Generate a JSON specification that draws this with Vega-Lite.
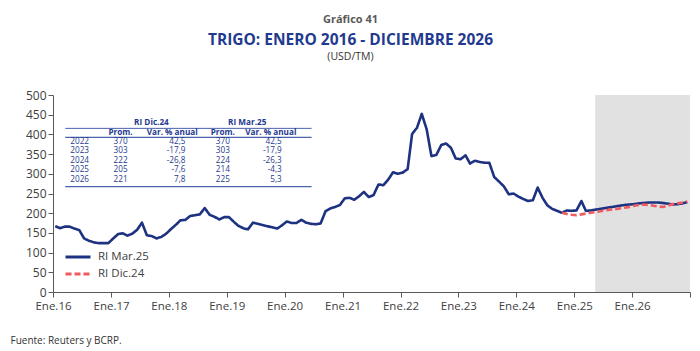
{
  "$schema": "https://vega.github.io/schema/vega-lite/v6.json",
  "width": 637,
  "height": 197,
  "autosize": "none",
  "padding": {"left": 53, "top": 95, "right": 10, "bottom": 59},
  "background": "white",
  "title": {
    "text": "Gráfico 41",
    "subtitle": "TRIGO: ENERO 2016 - DICIEMBRE 2026",
    "anchor": "middle",
    "dx": -21,
    "font": "Open Sans",
    "fontSize": 11,
    "fontWeight": "bold",
    "color": "#595959",
    "subtitleFont": "Open Sans",
    "subtitleFontSize": 15.5,
    "subtitleFontWeight": "bold",
    "subtitleColor": "#1f3a8f",
    "subtitlePadding": 8,
    "offset": 3
  },
  "config": {
    "font": "Open Sans",
    "view": {"stroke": null},
    "axisY": {"labelOverlap": false, "labelSeparation": -40},
    "locale": {"number": {"decimal": ",", "thousands": ".", "grouping": [3], "currency": ["", ""], "minus": "-"}}
  },
  "datasets": {
    "mar25": [
      {"date": "2016-01-15", "value": 167}, {"date": "2016-02-15", "value": 162}, {"date": "2016-03-15", "value": 166}, {"date": "2016-04-15", "value": 166},
      {"date": "2016-05-15", "value": 161}, {"date": "2016-06-15", "value": 157}, {"date": "2016-07-15", "value": 136}, {"date": "2016-08-15", "value": 130},
      {"date": "2016-09-15", "value": 126}, {"date": "2016-10-15", "value": 124}, {"date": "2016-11-15", "value": 124}, {"date": "2016-12-15", "value": 124},
      {"date": "2017-01-15", "value": 136}, {"date": "2017-02-15", "value": 147}, {"date": "2017-03-15", "value": 149}, {"date": "2017-04-15", "value": 143},
      {"date": "2017-05-15", "value": 148}, {"date": "2017-06-15", "value": 158}, {"date": "2017-07-15", "value": 176}, {"date": "2017-08-15", "value": 144},
      {"date": "2017-09-15", "value": 142}, {"date": "2017-10-15", "value": 136}, {"date": "2017-11-15", "value": 140}, {"date": "2017-12-15", "value": 148},
      {"date": "2018-01-15", "value": 160}, {"date": "2018-02-15", "value": 171}, {"date": "2018-03-15", "value": 182}, {"date": "2018-04-15", "value": 183},
      {"date": "2018-05-15", "value": 193}, {"date": "2018-06-15", "value": 195}, {"date": "2018-07-15", "value": 197}, {"date": "2018-08-15", "value": 213},
      {"date": "2018-09-15", "value": 196}, {"date": "2018-10-15", "value": 191}, {"date": "2018-11-15", "value": 184}, {"date": "2018-12-15", "value": 190},
      {"date": "2019-01-15", "value": 190}, {"date": "2019-02-15", "value": 178}, {"date": "2019-03-15", "value": 168}, {"date": "2019-04-15", "value": 162},
      {"date": "2019-05-15", "value": 159}, {"date": "2019-06-15", "value": 176}, {"date": "2019-07-15", "value": 173}, {"date": "2019-08-15", "value": 170},
      {"date": "2019-09-15", "value": 167}, {"date": "2019-10-15", "value": 164}, {"date": "2019-11-15", "value": 161}, {"date": "2019-12-15", "value": 169},
      {"date": "2020-01-15", "value": 179}, {"date": "2020-02-15", "value": 175}, {"date": "2020-03-15", "value": 175}, {"date": "2020-04-15", "value": 183},
      {"date": "2020-05-15", "value": 176}, {"date": "2020-06-15", "value": 173}, {"date": "2020-07-15", "value": 172}, {"date": "2020-08-15", "value": 174},
      {"date": "2020-09-15", "value": 205}, {"date": "2020-10-15", "value": 212}, {"date": "2020-11-15", "value": 216}, {"date": "2020-12-15", "value": 221},
      {"date": "2021-01-15", "value": 238}, {"date": "2021-02-15", "value": 239}, {"date": "2021-03-15", "value": 234}, {"date": "2021-04-15", "value": 243},
      {"date": "2021-05-15", "value": 254}, {"date": "2021-06-15", "value": 241}, {"date": "2021-07-15", "value": 246}, {"date": "2021-08-15", "value": 273},
      {"date": "2021-09-15", "value": 271}, {"date": "2021-10-15", "value": 285}, {"date": "2021-11-15", "value": 304}, {"date": "2021-12-15", "value": 300},
      {"date": "2022-01-15", "value": 303}, {"date": "2022-02-15", "value": 312}, {"date": "2022-03-15", "value": 401}, {"date": "2022-04-15", "value": 417},
      {"date": "2022-05-15", "value": 452}, {"date": "2022-06-15", "value": 413}, {"date": "2022-07-15", "value": 345}, {"date": "2022-08-15", "value": 348},
      {"date": "2022-09-15", "value": 373}, {"date": "2022-10-15", "value": 377}, {"date": "2022-11-15", "value": 366}, {"date": "2022-12-15", "value": 339},
      {"date": "2023-01-15", "value": 337}, {"date": "2023-02-15", "value": 347}, {"date": "2023-03-15", "value": 326}, {"date": "2023-04-15", "value": 333},
      {"date": "2023-05-15", "value": 330}, {"date": "2023-06-15", "value": 328}, {"date": "2023-07-15", "value": 328}, {"date": "2023-08-15", "value": 292},
      {"date": "2023-09-15", "value": 280}, {"date": "2023-10-15", "value": 268}, {"date": "2023-11-15", "value": 248}, {"date": "2023-12-15", "value": 250},
      {"date": "2024-01-15", "value": 242}, {"date": "2024-02-15", "value": 236}, {"date": "2024-03-15", "value": 231}, {"date": "2024-04-15", "value": 233},
      {"date": "2024-05-15", "value": 265}, {"date": "2024-06-15", "value": 239}, {"date": "2024-07-15", "value": 220}, {"date": "2024-08-15", "value": 211},
      {"date": "2024-09-15", "value": 206}, {"date": "2024-10-15", "value": 201}, {"date": "2024-11-15", "value": 207}, {"date": "2024-12-15", "value": 206},
      {"date": "2025-01-15", "value": 207}, {"date": "2025-02-15", "value": 231}, {"date": "2025-03-15", "value": 206}, {"date": "2025-04-15", "value": 207},
      {"date": "2025-05-15", "value": 209}, {"date": "2025-06-15", "value": 211}, {"date": "2025-07-15", "value": 213}, {"date": "2025-08-15", "value": 215},
      {"date": "2025-09-15", "value": 217}, {"date": "2025-10-15", "value": 219}, {"date": "2025-11-15", "value": 221}, {"date": "2025-12-15", "value": 222},
      {"date": "2026-01-15", "value": 223}, {"date": "2026-02-15", "value": 225}, {"date": "2026-03-15", "value": 226}, {"date": "2026-04-15", "value": 227},
      {"date": "2026-05-15", "value": 227}, {"date": "2026-06-15", "value": 227}, {"date": "2026-07-15", "value": 226}, {"date": "2026-08-15", "value": 224},
      {"date": "2026-09-15", "value": 222}, {"date": "2026-10-15", "value": 223}, {"date": "2026-11-15", "value": 225}, {"date": "2026-12-15", "value": 228}
    ],
    "dic24": [
      {"date": "2024-10-15", "value": 201}, {"date": "2024-11-15", "value": 198}, {"date": "2024-12-15", "value": 196},
      {"date": "2025-01-15", "value": 195}, {"date": "2025-02-15", "value": 197}, {"date": "2025-03-15", "value": 199}, {"date": "2025-04-15", "value": 201},
      {"date": "2025-05-15", "value": 203}, {"date": "2025-06-15", "value": 205}, {"date": "2025-07-15", "value": 207}, {"date": "2025-08-15", "value": 209},
      {"date": "2025-09-15", "value": 210}, {"date": "2025-10-15", "value": 212}, {"date": "2025-11-15", "value": 214}, {"date": "2025-12-15", "value": 216},
      {"date": "2026-01-15", "value": 219}, {"date": "2026-02-15", "value": 221}, {"date": "2026-03-15", "value": 222}, {"date": "2026-04-15", "value": 221},
      {"date": "2026-05-15", "value": 219}, {"date": "2026-06-15", "value": 217}, {"date": "2026-07-15", "value": 216}, {"date": "2026-08-15", "value": 219},
      {"date": "2026-09-15", "value": 223}, {"date": "2026-10-15", "value": 225}, {"date": "2026-11-15", "value": 227}, {"date": "2026-12-15", "value": 230}
    ],
    "forecast": [{"from": "2025-05-13", "to": "2027-01-01"}],
    "table": [
      {"year": 2022, "dic_prom": 370, "dic_var": 42.5, "mar_prom": 370, "mar_var": 42.5},
      {"year": 2023, "dic_prom": 303, "dic_var": -17.9, "mar_prom": 303, "mar_var": -17.9},
      {"year": 2024, "dic_prom": 222, "dic_var": -26.8, "mar_prom": 224, "mar_var": -26.3},
      {"year": 2025, "dic_prom": 205, "dic_var": -7.6, "mar_prom": 214, "mar_var": -4.3},
      {"year": 2026, "dic_prom": 221, "dic_var": 7.8, "mar_prom": 225, "mar_var": 5.3}
    ],
    "one": [{}]
  },
  "layer": [
    {
      "encoding": {
        "y": {"type": "quantitative",
          "scale": {"domain": [0, 500], "nice": false, "zero": true},
          "axis": {
            "values": [0, 50, 100, 150, 200, 250, 300, 350, 400, 450, 500],
            "labelOverlap": false,
            "labelSeparation": -40,
            "labelFlush": false,
            "labelBound": false,
            "title": "(USD/TM)", "titleAngle": 0, "titleX": 297, "titleY": -39, "titleAlign": "center", "titleBaseline": "middle",
            "titleFontWeight": "normal", "titleFontSize": 10.5, "titleColor": "#333333",
            "labelFontSize": 12, "labelColor": "#404040", "labelPadding": 2,
            "grid": false, "tickSize": 5, "tickColor": "#595959", "domainColor": "#595959"
          }
        }
      },
      "layer": [
        {
          "data": {"name": "forecast"},
          "mark": {"type": "rect", "color": "#e1e1e1"},
          "encoding": {
            "x": {"field": "from", "type": "temporal",
              "scale": {"type": "utc", "domain": [{"year": 2016, "month": 1, "date": 1, "utc": true}, {"year": 2027, "month": 1, "date": 1, "utc": true}], "nice": false},
              "axis": {
                "title": "Fuente: Reuters y BCRP.",
                "titleX": -43, "titleY": 48, "titleAlign": "left", "titleAnchor": "start", "titleBaseline": "middle",
                "titleFontWeight": "normal", "titleFontSize": 10, "titleColor": "#333333",
                "tickCount": {"interval": "year", "step": 1},
                "labelExpr": "utcFormat(datum.value, '%Y') == '2027' ? '' : 'Ene.' + utcFormat(datum.value, '%y')",
                "labelFontSize": 11.5, "labelColor": "#404040", "labelPadding": 3, "labelOverlap": false, "labelFlush": false, "labelBound": false,
                "grid": false, "tickSize": 5, "tickColor": "#595959", "domainColor": "#595959"
              }
            },
            "x2": {"field": "to"},
            "y": {"datum": 0, "type": "quantitative"},
            "y2": {"datum": 500}
          }
        },
        {
          "data": {"name": "mar25"},
          "mark": {"type": "line", "strokeWidth": 2.6, "strokeJoin": "round"},
          "encoding": {
            "x": {"field": "date", "type": "temporal"},
            "y": {"field": "value", "type": "quantitative"},
            "color": {"datum": "RI Mar.25", "type": "nominal",
              "scale": {"domain": ["RI Mar.25", "RI Dic.24"], "range": ["#1d3281", "#ef5b5f"]},
              "legend": {"orient": "none", "legendX": 17, "legendY": 154, "title": null, "symbolType": "M-2,0H2", "symbolSize": 156,
                "symbolStrokeWidth": 3, "labelFontSize": 11.5, "labelColor": "#404040", "rowPadding": 3, "labelOffset": 12, "padding": 0}
            },
            "strokeDash": {"datum": "RI Mar.25", "type": "nominal",
              "scale": {"domain": ["RI Mar.25", "RI Dic.24"], "range": [[1, 0], [6, 3]]},
              "legend": {"orient": "none", "legendX": 17, "legendY": 154, "title": null, "symbolType": "M-2,0H2", "symbolSize": 156,
                "symbolStrokeWidth": 3, "labelFontSize": 11.5, "labelColor": "#404040", "rowPadding": 3, "labelOffset": 12, "padding": 0}
            }
          }
        },
        {
          "data": {"name": "dic24"},
          "mark": {"type": "line", "strokeWidth": 2.6},
          "encoding": {
            "x": {"field": "date", "type": "temporal"},
            "y": {"field": "value", "type": "quantitative"},
            "color": {"datum": "RI Dic.24", "type": "nominal"},
            "strokeDash": {"datum": "RI Dic.24", "type": "nominal"}
          }
        }
      ]
    },
    {
      "layer": [
        {
          "data": {"name": "one"},
          "mark": {"type": "rule", "color": "#4a62b0", "strokeWidth": 1},
          "encoding": {
            "x": {"datum": {"year": 2016, "month": 3, "date": 18, "utc": true}, "type": "temporal"},
            "x2": {"datum": {"year": 2020, "month": 6, "date": 19, "utc": true}},
            "y": {"datum": 2020.55, "type": "quantitative", "scale": {"domain": [2017.0, 2037.96], "reverse": true, "nice": false, "zero": false}, "axis": null}
          }
        },
        {
          "data": {"name": "one"},
          "mark": {"type": "rule", "color": "#4a62b0", "strokeWidth": 1.2},
          "encoding": {
            "x": {"datum": {"year": 2016, "month": 3, "date": 18, "utc": true}, "type": "temporal"},
            "x2": {"datum": {"year": 2020, "month": 6, "date": 19, "utc": true}},
            "y": {"datum": 2021.5, "type": "quantitative"}
          }
        },
        {
          "data": {"name": "one"},
          "mark": {"type": "rule", "color": "#4a62b0", "strokeWidth": 1.2},
          "encoding": {
            "x": {"datum": {"year": 2016, "month": 3, "date": 18, "utc": true}, "type": "temporal"},
            "x2": {"datum": {"year": 2020, "month": 6, "date": 19, "utc": true}},
            "y": {"datum": 2026.75, "type": "quantitative"}
          }
        },
        {
          "data": {"name": "one"},
          "mark": {"type": "text", "align": "center", "baseline": "middle", "fontSize": 8.2, "fontWeight": "bold", "color": "#1f3a8f"},
          "encoding": {
            "x": {"datum": {"year": 2017, "month": 9, "date": 13, "utc": true}, "type": "temporal"},
            "y": {"datum": 2020, "type": "quantitative"},
            "text": {"value": "RI Dic.24"}
          }
        },
        {
          "data": {"name": "one"},
          "mark": {"type": "text", "align": "center", "baseline": "middle", "fontSize": 8.2, "fontWeight": "bold", "color": "#1f3a8f"},
          "encoding": {
            "x": {"datum": {"year": 2019, "month": 5, "date": 10, "utc": true}, "type": "temporal"},
            "y": {"datum": 2020, "type": "quantitative"},
            "text": {"value": "RI Mar.25"}
          }
        },
        {
          "data": {"name": "one"},
          "mark": {"type": "text", "align": "center", "baseline": "middle", "fontSize": 8.2, "fontWeight": "bold", "color": "#1f3a8f"},
          "encoding": {
            "x": {"datum": {"year": 2017, "month": 3, "date": 2, "utc": true}, "type": "temporal"},
            "y": {"datum": 2021, "type": "quantitative"},
            "text": {"value": "Prom."}
          }
        },
        {
          "data": {"name": "one"},
          "mark": {"type": "text", "align": "center", "baseline": "middle", "fontSize": 8.2, "fontWeight": "bold", "color": "#1f3a8f"},
          "encoding": {
            "x": {"datum": {"year": 2018, "month": 1, "date": 22, "utc": true}, "type": "temporal"},
            "y": {"datum": 2021, "type": "quantitative"},
            "text": {"value": "Var. % anual"}
          }
        },
        {
          "data": {"name": "one"},
          "mark": {"type": "text", "align": "center", "baseline": "middle", "fontSize": 8.2, "fontWeight": "bold", "color": "#1f3a8f"},
          "encoding": {
            "x": {"datum": {"year": 2018, "month": 12, "date": 7, "utc": true}, "type": "temporal"},
            "y": {"datum": 2021, "type": "quantitative"},
            "text": {"value": "Prom."}
          }
        },
        {
          "data": {"name": "one"},
          "mark": {"type": "text", "align": "center", "baseline": "middle", "fontSize": 8.2, "fontWeight": "bold", "color": "#1f3a8f"},
          "encoding": {
            "x": {"datum": {"year": 2019, "month": 10, "date": 6, "utc": true}, "type": "temporal"},
            "y": {"datum": 2021, "type": "quantitative"},
            "text": {"value": "Var. % anual"}
          }
        },
        {
          "data": {"name": "table"},
          "mark": {"type": "text", "align": "center", "baseline": "middle", "fontSize": 8.2, "color": "#1f3a8f"},
          "encoding": {
            "x": {"datum": {"year": 2016, "month": 6, "date": 17, "utc": true}, "type": "temporal"},
            "y": {"field": "year", "type": "quantitative"},
            "text": {"field": "year", "type": "quantitative", "format": "d"}
          }
        },
        {
          "data": {"name": "table"},
          "mark": {"type": "text", "align": "center", "baseline": "middle", "fontSize": 8.2, "color": "#1f3a8f"},
          "encoding": {
            "x": {"datum": {"year": 2017, "month": 3, "date": 2, "utc": true}, "type": "temporal"},
            "y": {"field": "year", "type": "quantitative"},
            "text": {"field": "dic_prom", "type": "quantitative", "format": "d"}
          }
        },
        {
          "data": {"name": "table"},
          "mark": {"type": "text", "align": "right", "baseline": "middle", "fontSize": 8.2, "color": "#1f3a8f"},
          "encoding": {
            "x": {"datum": {"year": 2018, "month": 4, "date": 16, "utc": true}, "type": "temporal"},
            "y": {"field": "year", "type": "quantitative"},
            "text": {"field": "dic_var", "type": "quantitative", "format": ".1f"}
          }
        },
        {
          "data": {"name": "table"},
          "mark": {"type": "text", "align": "center", "baseline": "middle", "fontSize": 8.2, "color": "#1f3a8f"},
          "encoding": {
            "x": {"datum": {"year": 2018, "month": 12, "date": 7, "utc": true}, "type": "temporal"},
            "y": {"field": "year", "type": "quantitative"},
            "text": {"field": "mar_prom", "type": "quantitative", "format": "d"}
          }
        },
        {
          "data": {"name": "table"},
          "mark": {"type": "text", "align": "right", "baseline": "middle", "fontSize": 8.2, "color": "#1f3a8f"},
          "encoding": {
            "x": {"datum": {"year": 2019, "month": 12, "date": 14, "utc": true}, "type": "temporal"},
            "y": {"field": "year", "type": "quantitative"},
            "text": {"field": "mar_var", "type": "quantitative", "format": ".1f"}
          }
        }
      ]
    }
  ],
  "resolve": {"scale": {"y": "independent"}, "axis": {"y": "independent"}}
}
